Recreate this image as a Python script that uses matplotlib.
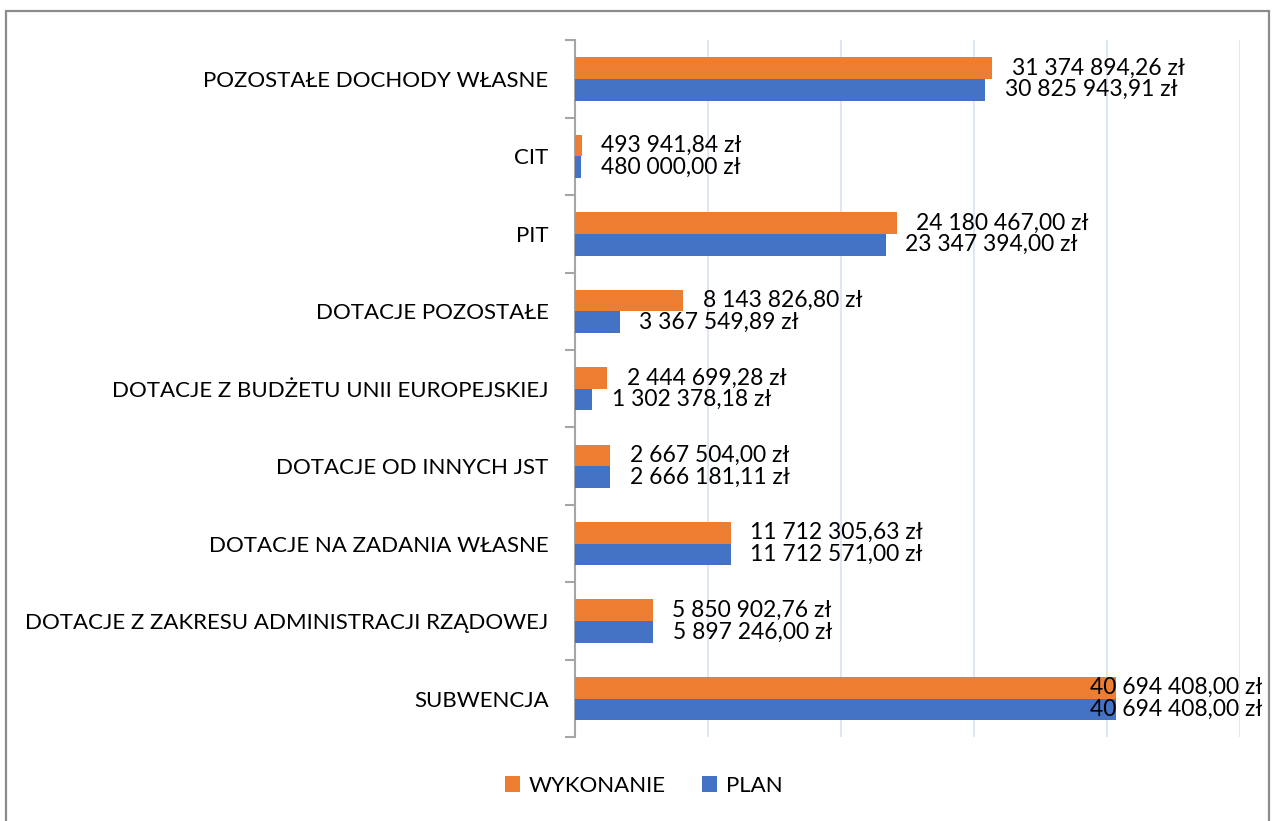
import matplotlib.pyplot as plt
import matplotlib.ticker as mticker
from matplotlib.patches import Rectangle
import numpy as np

plt.rcParams['font.family'] = ['Lato', 'DejaVu Sans']

categories = ['SUBWENCJA', 'DOTACJE Z ZAKRESU ADMINISTRACJI RZĄDOWEJ', 'DOTACJE NA ZADANIA WŁASNE',
              'DOTACJE OD INNYCH JST', 'DOTACJE Z BUDŻETU UNII EUROPEJSKIEJ', 'DOTACJE POZOSTAŁE',
              'PIT', 'CIT', 'POZOSTAŁE DOCHODY WŁASNE']
wykonanie = [40694408.00, 5850902.76, 11712305.63, 2667504.00, 2444699.28, 8143826.80,
             24180467.00, 493941.84, 31374894.26]
plan = [40694408.00, 5897246.00, 11712571.00, 2666181.11, 1302378.18, 3367549.89,
        23347394.00, 480000.00, 30825943.91]

orange = '#ED7D31'
blue = '#4472C4'


def fmt_pln(v):
    s = '{:,.2f}'.format(v)
    s = s.replace(',', ' ').replace('.', ',')
    return s + ' zł'


fig = plt.figure(figsize=(12.72, 8.21), dpi=100)
ax = fig.add_axes([0.452, 0.102, 0.523, 0.849])

y = np.arange(len(categories))
h = 0.28
ax.barh(y + h / 2, wykonanie, height=h, color=orange, label='WYKONANIE', zorder=3)
ax.barh(y - h / 2, plan, height=h, color=blue, label='PLAN', zorder=3)

ax.set_xlim(0, 50000000)
ax.set_ylim(-0.5, len(categories) - 0.5)
ax.xaxis.set_major_locator(mticker.MultipleLocator(10000000))
ax.grid(axis='x', color='#D9E1F2', linewidth=1.2, zorder=0)
ax.tick_params(axis='x', length=0, labelbottom=False)

ax.set_yticks(y)
ax.set_yticklabels(categories, fontsize=16)
ax.tick_params(axis='y', which='major', length=0, pad=19)
ax.set_yticks(np.arange(-0.5, len(categories)), minor=True)
ax.tick_params(axis='y', which='minor', length=7, color='#A6A6A6', width=1.5)

for s in ['top', 'right', 'bottom']:
    ax.spines[s].set_visible(False)
ax.spines['left'].set_color('#A6A6A6')
ax.spines['left'].set_linewidth(1.5)

xmax = 50000000
for vals, off in [(wykonanie, h / 2), (plan, -h / 2)]:
    for i, v in enumerate(vals):
        txt = fmt_pln(v)
        if v > 38000000:
            ax.annotate(txt, (xmax, i + off), xytext=(16, 0), textcoords='offset points',
                        ha='right', va='center', fontsize=16.5, zorder=4, annotation_clip=False)
        else:
            ax.annotate(txt, (v, i + off), xytext=(14, 0), textcoords='offset points',
                        ha='left', va='center', fontsize=16.5, zorder=4)

fig.legend(loc='center', bbox_to_anchor=(0.506, 0.043), ncol=2, frameon=False,
           fontsize=16, handlelength=0.7, handleheight=0.7, columnspacing=1.6, handletextpad=0.4)

fig.patches.append(Rectangle((0.0051, -0.02), 0.9929, 1.007, transform=fig.transFigure,
                             fill=False, edgecolor='#8C8C8C', linewidth=1.6))

fig.savefig('out.png', dpi=100)
